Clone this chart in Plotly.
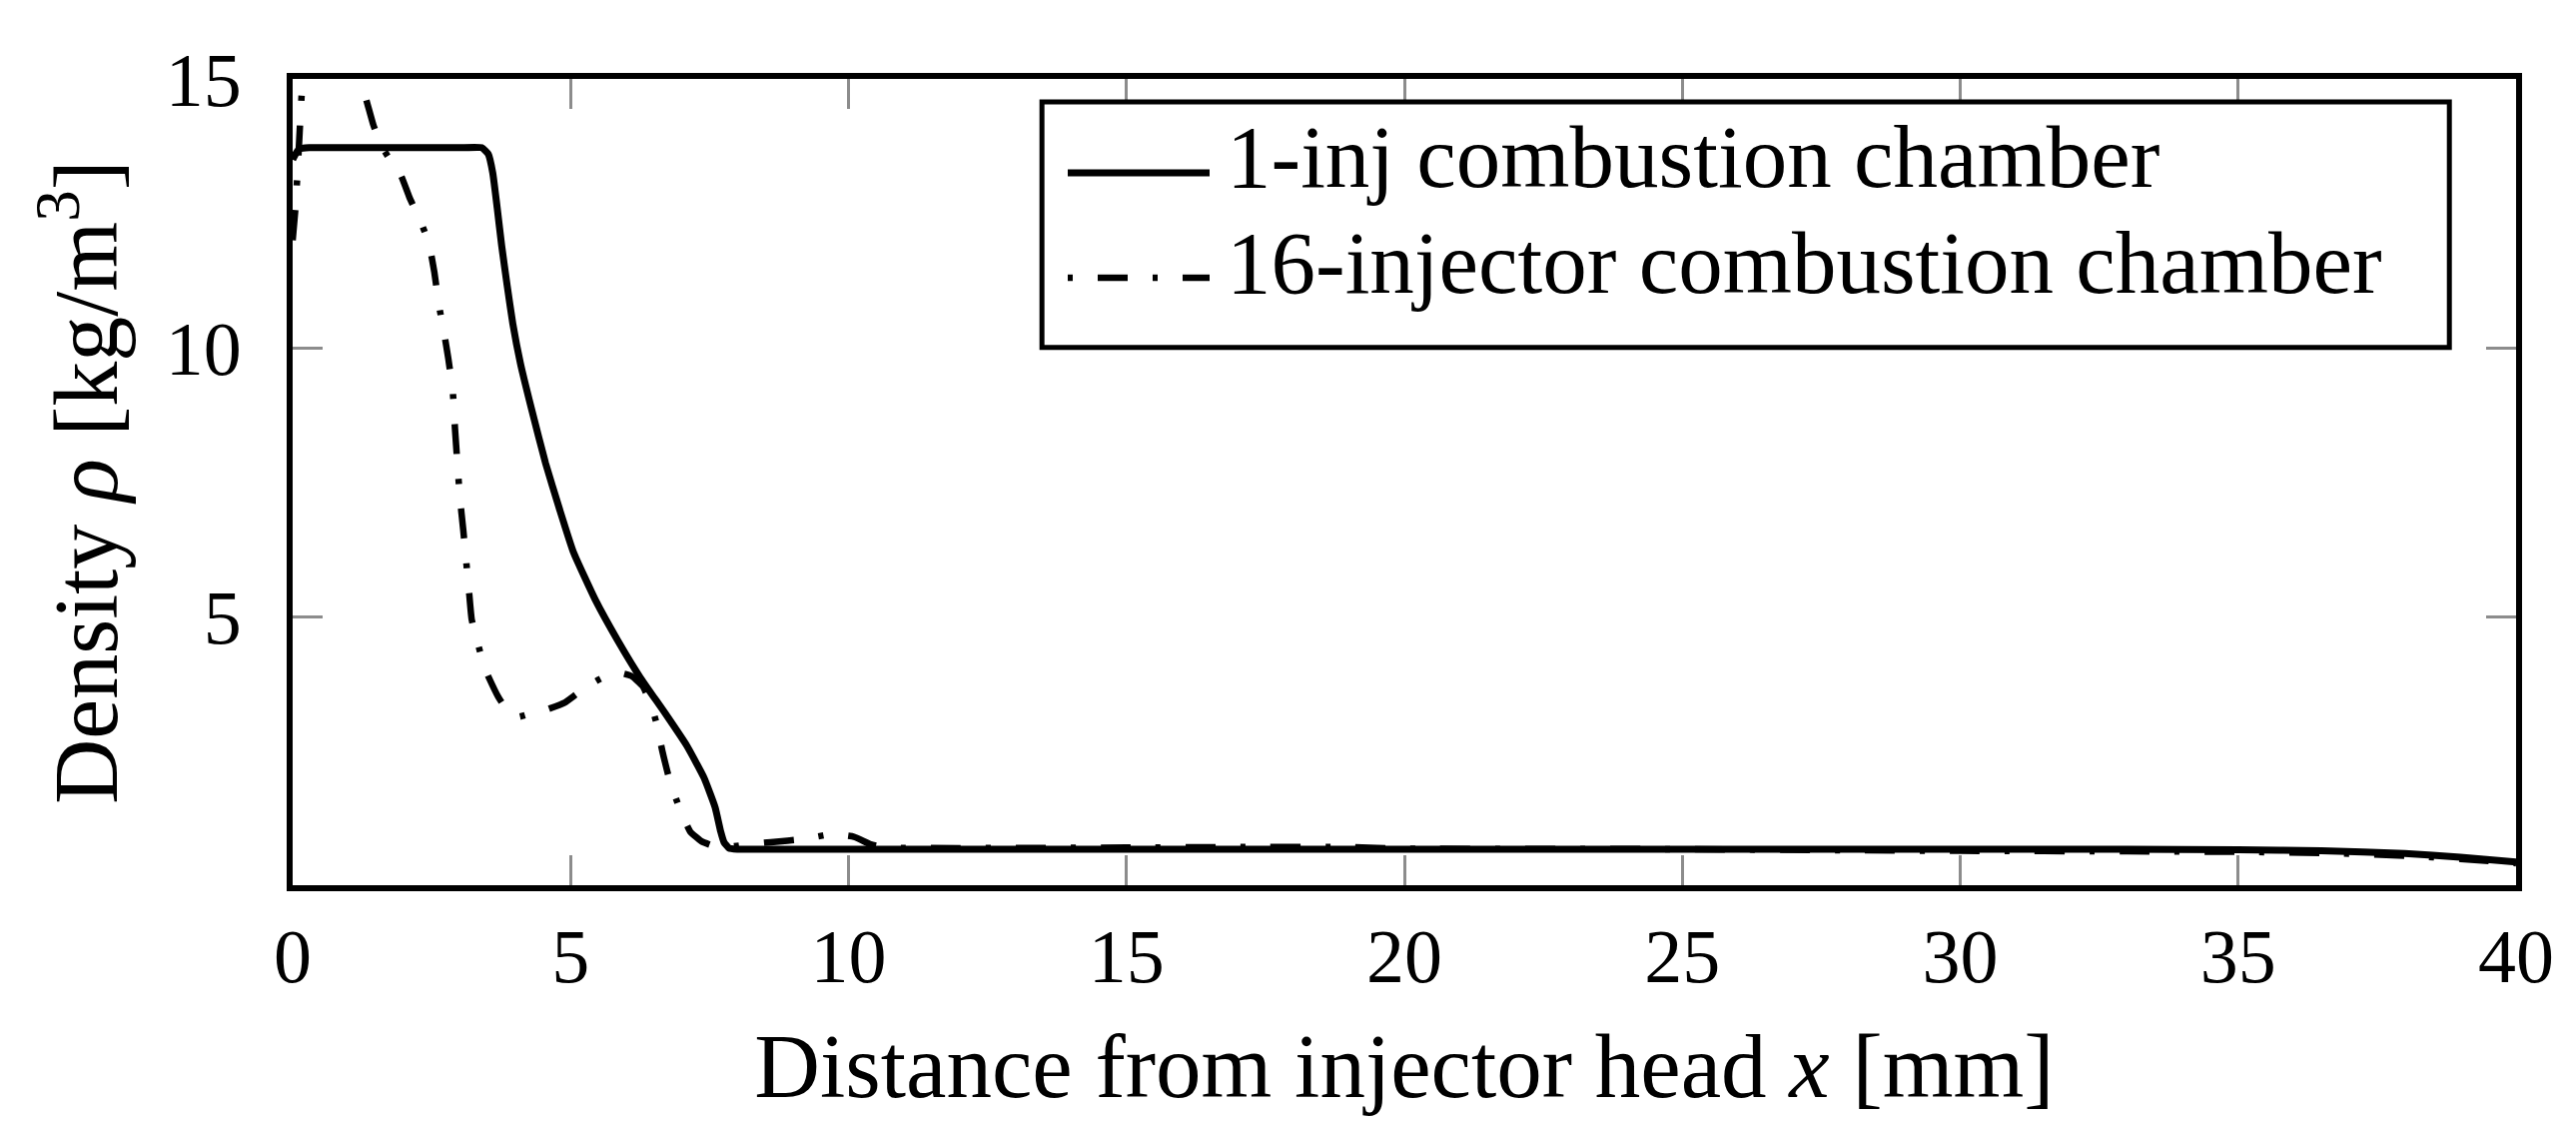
import plotly.graph_objects as go

# ---- data ----
x_one = [0, 0.05, 0.12, 0.3, 1.0, 2.0, 3.0, 3.4, 3.52, 3.6, 3.68, 3.76, 3.86, 3.96, 4.1, 4.3,
         4.55, 4.8, 5.05, 5.45, 5.85, 6.25, 6.7, 7.1, 7.4, 7.6, 7.7, 7.76, 7.85, 8.0, 10, 15,
         20, 25, 30, 33, 35, 36.5, 38, 39, 40]
rho_one = [13.5, 13.6, 13.7, 13.72, 13.72, 13.72, 13.72, 13.72, 13.6, 13.25, 12.6, 11.9, 11.15,
           10.45, 9.7, 8.85, 7.85, 7.0, 6.2, 5.3, 4.55, 3.87, 3.2, 2.58, 2.0, 1.45, 1.0, 0.8,
           0.69, 0.67, 0.67, 0.67, 0.67, 0.67, 0.67, 0.67, 0.66, 0.64, 0.59, 0.52, 0.43]

x_sixteen = [0, 0.05, 0.1, 0.15, 0.2, 0.3, 0.6, 1.0, 1.3, 1.45, 1.6, 1.75, 1.95, 2.1, 2.3, 2.45,
             2.55, 2.63, 2.72, 2.8, 2.88, 2.92, 2.96, 3.01, 3.07, 3.12, 3.17, 3.22, 3.33, 3.47,
             3.7, 3.9, 4.05, 4.3, 4.55, 4.9, 5.1, 5.3, 5.5, 5.7, 5.9, 6.1, 6.3, 6.45, 6.55, 6.65,
             6.78, 6.95, 7.15, 7.35, 7.6, 7.9, 8.2, 8.6, 9.2, 9.7, 10.1, 10.4, 10.7, 12, 15, 17,
             19, 20, 25, 28, 30, 33, 35, 36.5, 38, 39, 40]
rho_sixteen = [12.0, 12.6, 13.5, 14.5, 15.3, 16.0, 16.3, 15.6, 14.7, 14.15, 13.75, 13.5, 13.2,
               12.8, 12.35, 11.95, 11.4, 10.8, 10.3, 9.8, 9.2, 8.5, 7.9, 7.2, 6.6, 6.05, 5.5,
               4.95, 4.5, 4.0, 3.5, 3.2, 3.13, 3.2, 3.26, 3.4, 3.55, 3.7, 3.82, 3.92, 3.95, 3.89,
               3.7, 3.35, 3.0, 2.5, 1.96, 1.46, 1.0, 0.82, 0.72, 0.72, 0.76, 0.8, 0.86, 0.95,
               0.9, 0.76, 0.7, 0.69, 0.7, 0.71, 0.71, 0.68, 0.67, 0.65, 0.64, 0.63, 0.62, 0.6,
               0.55, 0.49, 0.41]

x_ticks = [0, 5, 10, 15, 20, 25, 30, 35, 40]
y_ticks = [5, 10, 15]

series_names = ["1-inj combustion chamber", "16-injector combustion chamber"]

FONT = "Liberation Serif"
DASHDOT = "30px,25px,5px,25px"
DASHDOT_SAMPLE = "5px,25px,30px,25px"
SOLID_W = 7
DASH_W = 6.5

fig = go.Figure()
fig.add_trace(go.Scatter(x=x_one, y=rho_one, mode="lines", name=series_names[0],
                         showlegend=False,
                         line=dict(color="black", width=SOLID_W, shape="spline", smoothing=0.4)))
fig.add_trace(go.Scatter(x=x_sixteen, y=rho_sixteen, mode="lines", name=series_names[1],
                         showlegend=False,
                         line=dict(color="black", width=DASH_W, dash=DASHDOT,
                                   shape="spline", smoothing=0.4)))

axis_common = dict(
    showgrid=False, zeroline=False, showline=True, linecolor="black", linewidth=6,
    mirror="ticks", ticks="inside", ticklen=30, tickwidth=3, tickcolor="#8c8c8c",
    tickfont=dict(family=FONT, size=76, color="black"),
)

# ---- legend box (drawn in plot-area fractions) ----
leg_x0, leg_x1, leg_y0, leg_y1 = 0.337, 0.970, 0.667, 0.9715
sample_y = [0.8835, 0.7534]
text_y = [0.9033, 0.772]
sample_x0, sample_x1, text_x = 0.3486, 0.4124, 0.419
styles = [dict(color="black", width=SOLID_W),
          dict(color="black", width=DASH_W, dash=DASHDOT_SAMPLE)]

shapes = [dict(type="rect", xref="paper", yref="paper", x0=leg_x0, x1=leg_x1, y0=leg_y0, y1=leg_y1,
               line=dict(color="black", width=5), fillcolor="white", layer="above")]
annotations = []
for name, sy, ty, st in zip(series_names, sample_y, text_y, styles):
    shapes.append(dict(type="line", xref="paper", yref="paper", x0=sample_x0, x1=sample_x1,
                       y0=sy, y1=sy, line=st, layer="above"))
    annotations.append(dict(text=name, xref="paper", yref="paper", x=text_x, y=ty,
                            xanchor="left", yanchor="middle", showarrow=False,
                            font=dict(family=FONT, size=89, color="black")))

fig.update_layout(
    width=2579, height=1131, autosize=False,
    paper_bgcolor="white", plot_bgcolor="white",
    margin=dict(l=285, r=68, t=71, b=253),
    font=dict(family=FONT, color="black"),
    xaxis=dict(range=[0, 40], tickvals=x_ticks, ticklabelstandoff=0,
               title=dict(text="Distance from injector head <i>x</i> [mm]",
                          font=dict(family=FONT, size=91), standoff=38),
               **axis_common),
    yaxis=dict(range=[0, 15], tickvals=y_ticks, ticklabelstandoff=30,
               title=dict(text="Density <i>ρ</i> [kg/m<sup>3</sup>]",
                          font=dict(family=FONT, size=90), standoff=20),
               **axis_common),
    shapes=shapes,
    annotations=annotations,
    showlegend=False,
)

fig.write_html("out.html")
